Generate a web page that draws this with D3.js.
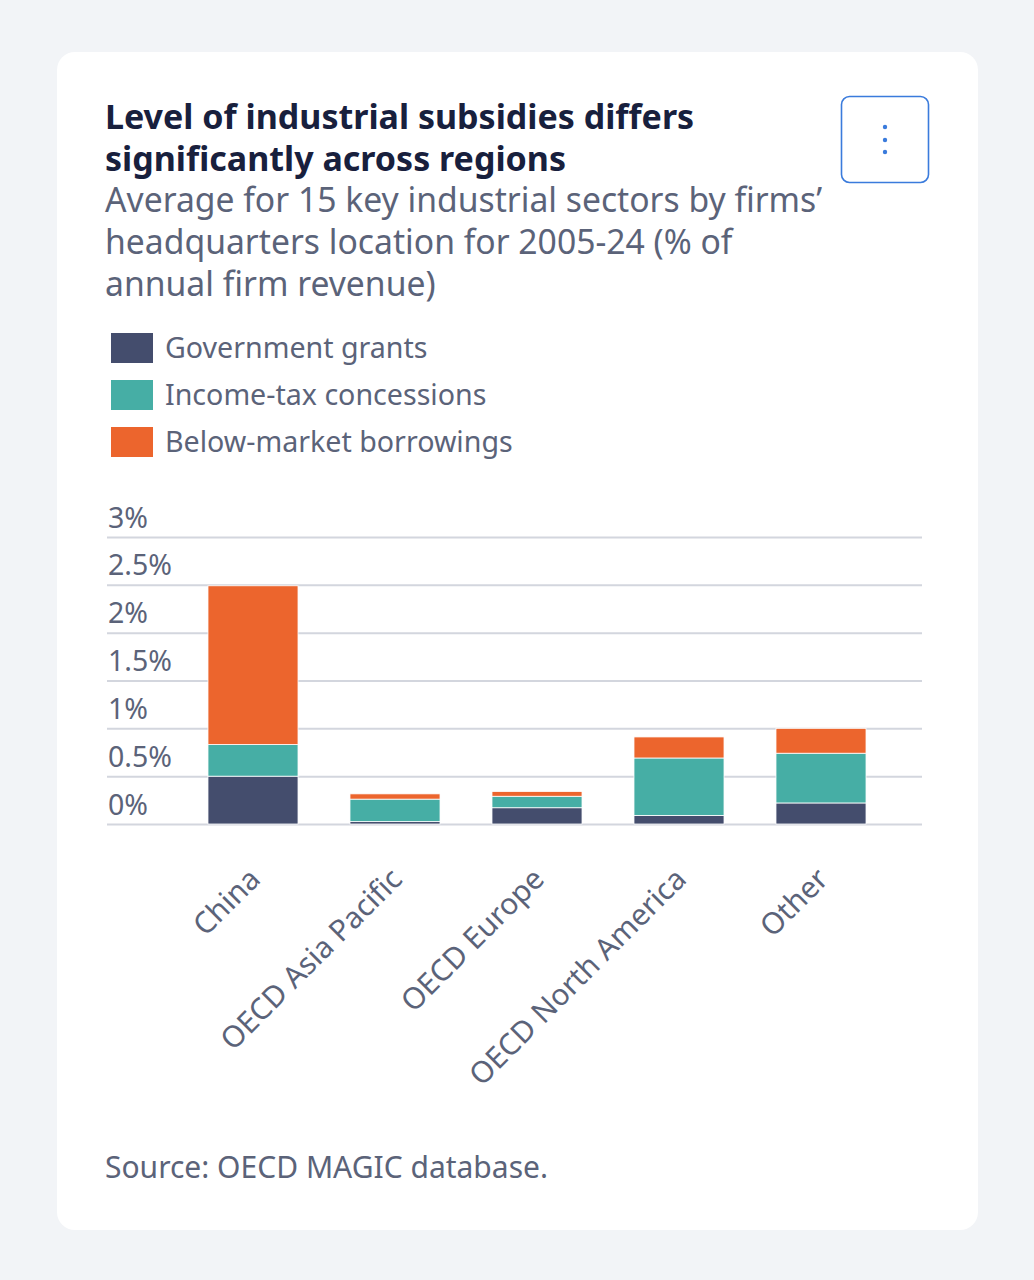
<!DOCTYPE html>
<html>
<head>
<meta charset="utf-8">
<script src="https://cdn.jsdelivr.net/npm/d3@7"></script>
<style>
  html, body { margin: 0; padding: 0; background: #f2f4f7; }
  svg { display: block; font-family: "Noto Sans", sans-serif; }
</style>
</head>
<body>
<div id="chart"></div>
<script>
// Data (% of annual firm revenue)
const regions = ["China", "OECD Asia Pacific", "OECD Europe", "OECD North America", "Other"];
const seriesNames = ["Government grants", "Income-tax concessions", "Below-market borrowings"];
const grants = [0.50, 0.025, 0.17, 0.09, 0.22];
const taxConcessions = [0.33, 0.235, 0.12, 0.60, 0.52];
const borrowings = [1.66, 0.055, 0.05, 0.22, 0.26];
const yTicks = [0, 0.5, 1, 1.5, 2, 2.5, 3];
const colors = ["#444d6d", "#46aea5", "#ec652d"];

const W = 1034, H = 1280;

let svg = d3.select("#chart")
  .append("svg")
  .attr("width", W)
  .attr("height", H);

// card
svg.append("rect")
  .attr("x", 57).attr("y", 52)
  .attr("width", 921).attr("height", 1178)
  .attr("rx", 18)
  .attr("fill", "#ffffff");

// menu button
svg.append("rect")
  .attr("x", 841.5).attr("y", 96.5)
  .attr("width", 87).attr("height", 86)
  .attr("rx", 8)
  .attr("fill", "none")
  .attr("stroke", "#3a7bdc")
  .attr("stroke-width", 1.6);
svg.selectAll("circle.dot")
  .data([127, 140, 152])
  .enter().append("circle")
  .attr("class", "dot")
  .attr("cx", 885).attr("cy", d => d)
  .attr("r", 2.2)
  .attr("fill", "#3a7bdc");

// title and subtitle
const titleLines = ["Level of industrial subsidies differs", "significantly across regions"];
const subLines = ["Average for 15 key industrial sectors by firms\u2019",
  "headquarters location for 2005-24 (% of", "annual firm revenue)"];

svg.selectAll("text.title")
  .data(titleLines)
  .enter().append("text")
  .attr("class", "title")
  .attr("x", 105)
  .attr("y", (d, i) => 129 + i * 42)
  .style("font-size", "34px")
  .style("font-weight", "bold")
  .attr("fill", "#18203d")
  .text(d => d);

svg.selectAll("text.sub")
  .data(subLines)
  .enter().append("text")
  .attr("class", "sub")
  .attr("x", 105)
  .attr("y", (d, i) => 212 + i * 42)
  .style("font-size", "33.7px")
  .attr("fill", "#5b6379")
  .text(d => d);

// legend
let legend = svg.selectAll("g.legend")
  .data(seriesNames)
  .enter().append("g")
  .attr("class", "legend")
  .attr("transform", (d, i) => "translate(111," + (333 + i * 47) + ")");
legend.append("rect")
  .attr("width", 42).attr("height", 30)
  .attr("fill", (d, i) => colors[i]);
legend.append("text")
  .attr("x", 54).attr("y", 25)
  .style("font-size", "28.6px")
  .attr("fill", "#5b6379")
  .text(d => d);

// scales
const xScale = d3.scaleBand()
  .domain(regions)
  .range([182, 892])
  .paddingInner(0.366)
  .paddingOuter(0.183);

const yScale = d3.scaleLinear()
  .domain([0, 3])
  .range([824, 537]);

// gridlines + tick labels
let yAxis = svg.append("g")
  .attr("transform", "translate(107,0)")
  .call(d3.axisRight(yScale)
    .tickValues(yTicks)
    .tickSize(815)
    .tickFormat(d => d + "%"));
yAxis.select(".domain").remove();
yAxis.selectAll(".tick line")
  .attr("stroke", "#d3d6de")
  .attr("stroke-width", 2);
yAxis.selectAll(".tick text")
  .attr("x", 1)
  .attr("dy", "-10px")
  .attr("text-anchor", "start")
  .style("font-size", "28.5px")
  .style("font-family", "Noto Sans")
  .attr("fill", "#5b6379");

// stacked bars
const rows = regions.map((r, i) => ({
  region: r,
  grants: grants[i],
  tax: taxConcessions[i],
  borrow: borrowings[i]
}));
const stack = d3.stack().keys(["grants", "tax", "borrow"]);
const layers = stack(rows);

svg.append("g")
  .selectAll("g")
  .data(layers)
  .enter().append("g")
  .attr("fill", (d, i) => colors[i])
  .selectAll("rect")
  .data(d => d)
  .enter().append("rect")
  .attr("x", d => xScale(d.data.region))
  .attr("width", xScale.bandwidth())
  .attr("y", d => yScale(d[1]))
  .attr("height", d => yScale(d[0]) - yScale(d[1]))
  .attr("stroke", "#ffffff")
  .attr("stroke-width", 0.8);

// category labels, rotated
svg.append("g")
  .selectAll("text")
  .data(regions)
  .enter().append("text")
  .attr("transform", d => "translate(" + (xScale(d) + xScale.bandwidth() / 2 - 6) + ",866) rotate(-45)")
  .attr("text-anchor", "end")
  .attr("dy", "0.71em")
  .style("font-size", "29.7px")
  .attr("fill", "#5b6379")
  .text(d => d);

// source
svg.append("text")
  .attr("x", 105).attr("y", 1178)
  .style("font-size", "30px")
  .attr("fill", "#5b6379")
  .text("Source: OECD MAGIC database.");
</script>
</body>
</html>
